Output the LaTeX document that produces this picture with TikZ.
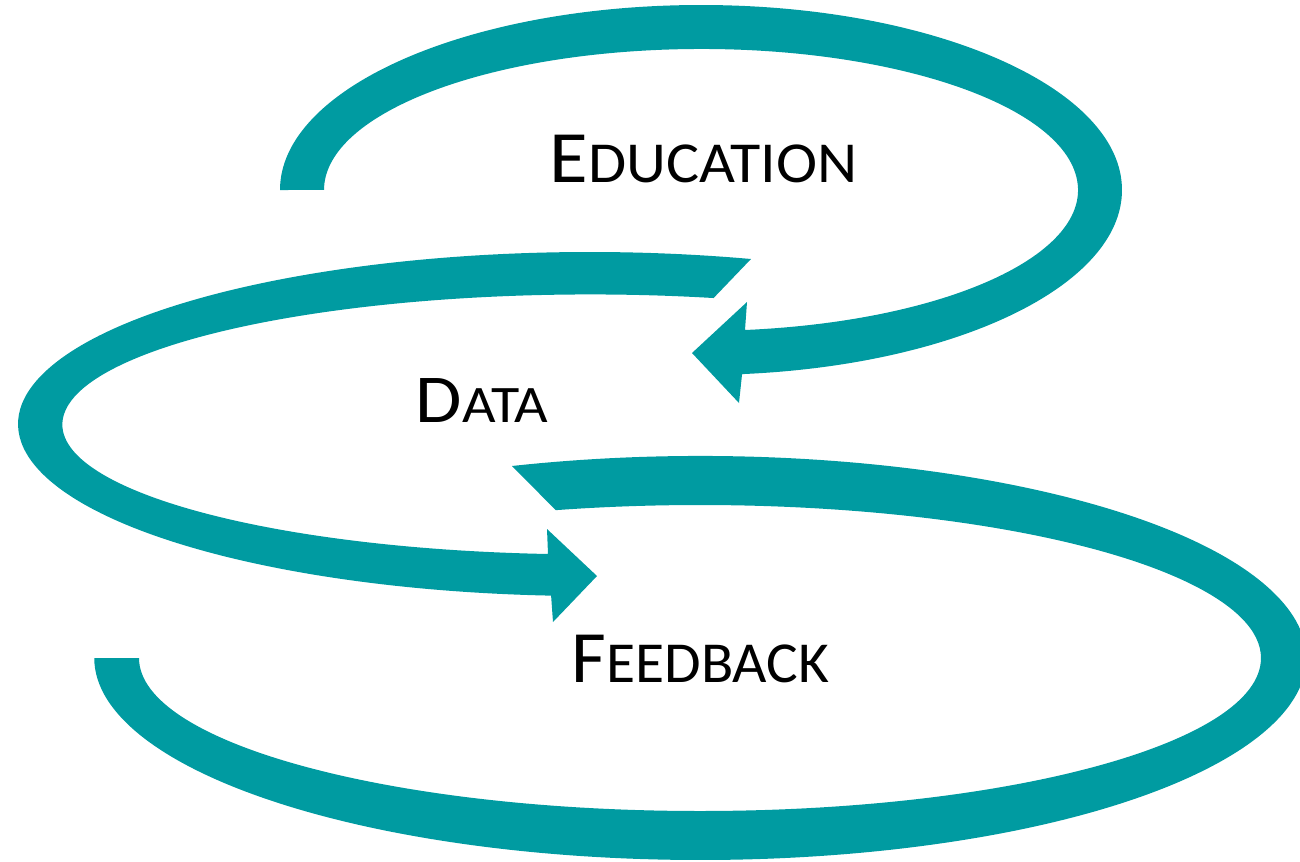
\documentclass[tikz,border=0pt]{standalone}
\usepackage{fontspec}
\setmainfont{Carlito}
\definecolor{loopteal}{RGB}{0,155,161}
% smaller capitals for the rest of a word
\newcommand{\capsrest}[2]{{\fontsize{#1}{#1}\selectfont #2}}

\begin{document}
\begin{tikzpicture}[x=0.1mm, y=0.1mm,
  ribbon/.style={fill=loopteal, draw=none},
  word/.style={anchor=base west, inner sep=0pt, font=\fontsize{21}{25}\selectfont}]
  \useasboundingbox (0,0) rectangle (1300,861);
  \clip (0,0) rectangle (1300,861);
  % top loop, arrow pointing left
  \fill[ribbon] (280,671) arc[start angle=180, end angle=-84.4, x radius=42.1mm, y radius=18.5mm]
    -- (739,458) -- (692,508) -- (747,559) -- (745,531)
    arc[start angle=-83.3, end angle=180, x radius=37.7mm, y radius=14.1mm] -- cycle;
  % middle loop, arrow pointing right
  \fill[ribbon] (751,602) arc[start angle=73.65, end angle=266.1, x radius=57.2mm, y radius=17.2mm]
    -- (553,239) -- (597,285) -- (547,332) -- (548,307)
    arc[start angle=265.4, end angle=76.5, x radius=52.8mm, y radius=13mm] -- cycle;
  % bottom loop
  \fill[ribbon] (512,395) arc[start angle=108.1, end angle=-180, x radius=60.6mm, y radius=20.2mm]
    -- (139,203)
    arc[start angle=-180, end angle=104.9, x radius=56.1mm, y radius=15.3mm] -- cycle;
  \node[word] (education) at (549,679) {\scalebox{1.07}[1]{E\capsrest{16.5}{DUCATION}}};
  \node[word, font=\fontsize{19.5}{23}\selectfont] (data) at (415,439) {\scalebox{1.1}[1]{D\capsrest{15}{ATA}}};
  \node[word] (feedback) at (571,179) {\scalebox{1.025}[1]{F\capsrest{16.5}{EEDBACK}}};
\end{tikzpicture}
\end{document}
